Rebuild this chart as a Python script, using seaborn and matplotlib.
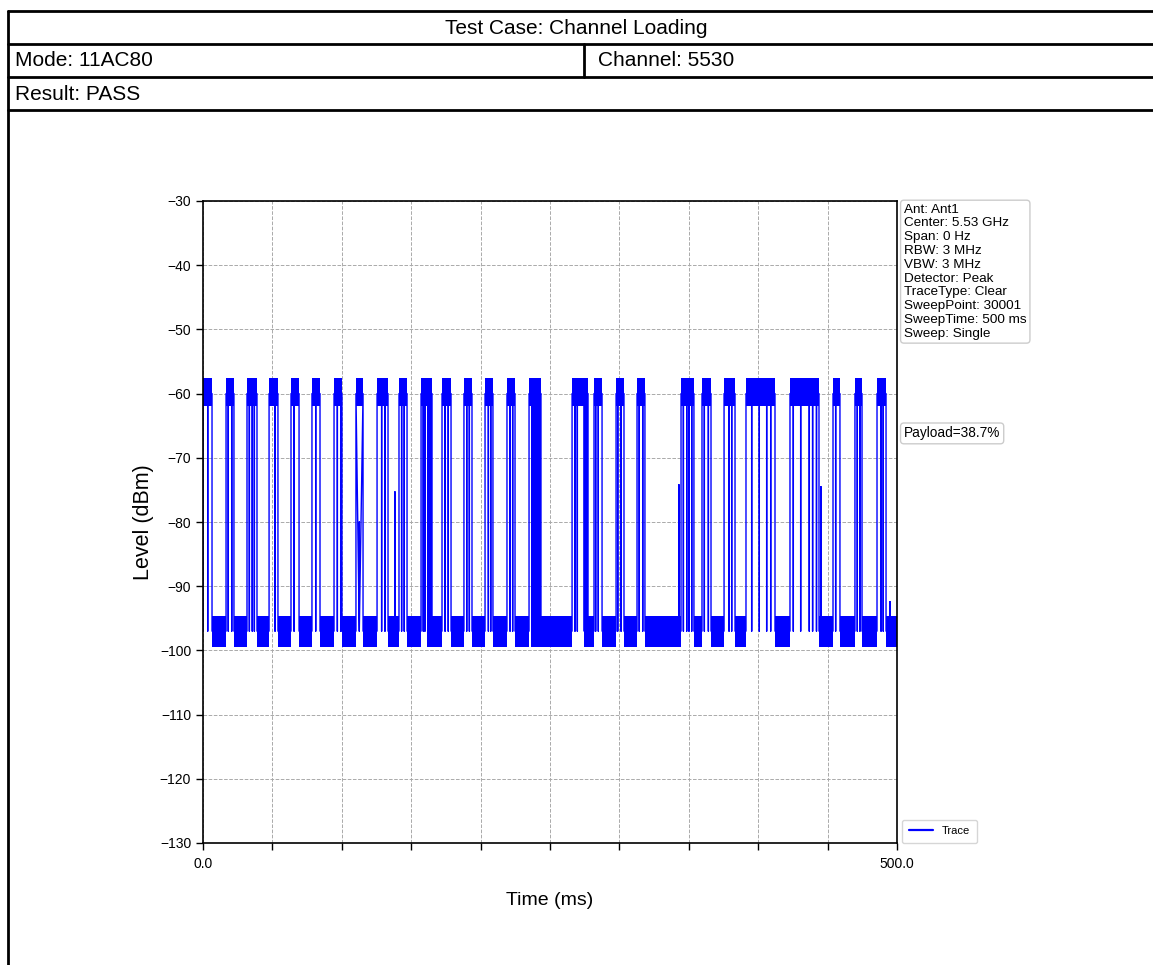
import matplotlib
matplotlib.use("Agg")
import matplotlib.pyplot as plt
from matplotlib.lines import Line2D
import seaborn as sns
import pandas as pd

# ---------------- data ----------------
title_text = "Test Case: Channel Loading"
mode_text = "Mode: 11AC80"
channel_text = "Channel: 5530"
result_text = "Result: PASS"

info_lines = ["Ant: Ant1", "Center: 5.53 GHz", "Span: 0 Hz", "RBW: 3 MHz", "VBW: 3 MHz",
              "Detector: Peak", "TraceType: Clear", "SweepPoint: 30001",
              "SweepTime: 500 ms", "Sweep: Single"]
payload_text = "Payload=38.7%"

# burst (transmission) intervals in ms
burst_start = [0.0, 16.6, 31.7, 47.6, 63.4, 78.5, 94.4, 110.2, 125.4, 141.2, 157.1, 172.2,
               188.0, 203.2, 219.0, 234.9, 265.9, 281.7, 297.6, 312.7, 344.4, 359.5,
               375.4, 391.2, 422.9, 453.9, 469.7, 485.6]
burst_end = [6.5, 22.3, 38.9, 54.0, 69.2, 84.3, 100.1, 115.3, 133.3, 147.0, 165.0, 178.7,
             193.8, 208.9, 224.8, 243.5, 277.4, 287.5, 303.3, 318.4, 353.7, 366.0,
             383.3, 412.1, 443.8, 458.9, 474.8, 492.1]
# short drops to the noise floor inside bursts (ms)
dip_ms = [3.4, 18.2, 20.7, 33.4, 35.5, 37.0, 51.9, 65.6, 81.2, 96.8, 99.2, 128.7, 131.1,
          143.1, 145.0, 158.7, 159.9, 174.4, 176.7, 190.0, 191.9, 205.6, 207.3, 221.2,
          223.1, 268.0, 269.7, 274.7, 276.7, 282.9, 284.8, 298.8, 301.2, 314.3, 316.8,
          346.1, 348.5, 350.1, 352.1, 361.2, 364.1, 379.0, 380.9, 395.3, 400.8, 406.1,
          409.0, 425.3, 430.6, 436.8, 439.2, 442.0, 455.8, 471.4, 473.3, 488.5, 490.1]
# partial spikes rising out of the noise floor (ms, dBm)
spike_ms = [112.6, 138.3, 342.9, 445.2, 494.9]
spike_dbm = [-80.0, -75.3, -74.2, -74.5, -92.4]
# regions of very rapid toggling (ms)
dense_start = [161.4, 236.3, 274.2]
dense_end = [165.0, 243.5, 277.4]

high_level = -60.0
high_band = (-62.0, -57.6)
low_level = -97.0
low_band = (-99.4, -94.6)
sweep_ms = 500.0

y_ticks = list(range(-130, -29, 10))
x_ticks = list(range(0, 501, 50))
x_labels = ["0.0"] + [""] * 9 + ["500.0"]

# ---------------- build the trace ----------------
pts = []
for s, e in sorted(zip(burst_start, burst_end)):
    pts += [(s, low_level), (s, high_level)]
    for d in dip_ms:
        if s < d < e:
            pts += [(d, high_level), (d, low_level), (d, high_level)]
    pts += [(e, high_level), (e, low_level)]
for s, v in zip(spike_ms, spike_dbm):
    pts += [(s, low_level), (s, v), (s, low_level)]
pts_sorted = sorted(enumerate(pts), key=lambda p: (p[1][0], p[0]))
trace = pd.DataFrame({"Time (ms)": [0.0] + [p[1][0] for p in pts_sorted] + [sweep_ms],
                      "Level (dBm)": [low_level] + [p[1][1] for p in pts_sorted] + [low_level]})

# ---------------- figure ----------------
sns.set_theme(style="ticks")
plt.rcParams["font.family"] = ["Liberation Sans", "DejaVu Sans"]
plt.rcParams["axes.unicode_minus"] = True
for key in ["text.color", "axes.labelcolor", "xtick.color", "ytick.color", "axes.edgecolor"]:
    plt.rcParams[key] = "black"

fig = plt.figure(figsize=(11.53, 9.65), dpi=100)
fig.patch.set_facecolor("white")

W, H = 1153.0, 965.0
def fx(px):
    return px / W
def fy(py):
    return 1 - py / H

# table lines
lw = 2.0
for y in [11, 44, 77, 110]:
    fig.add_artist(Line2D([fx(8), 1.0], [fy(y), fy(y)], color="black", lw=lw))
fig.add_artist(Line2D([fx(8), fx(8)], [fy(11), 0.0], color="black", lw=lw))
fig.add_artist(Line2D([fx(584), fx(584)], [fy(44), fy(77)], color="black", lw=lw))
hdr_fs = 15
fig.text(fx(576), fy(28), title_text, ha="center", va="center", fontsize=hdr_fs)
fig.text(fx(15), fy(61), mode_text, ha="left", va="center", fontsize=hdr_fs)
fig.text(fx(598), fy(61), channel_text, ha="left", va="center", fontsize=hdr_fs)
fig.text(fx(15), fy(94), result_text, ha="left", va="center", fontsize=hdr_fs)

ax = fig.add_axes([fx(203), fy(843), fx(897) - fx(203), fy(201) - fy(843)])

blue = "#0000ff"
# noise bands
gaps_start = list(burst_end)
gaps_end = list(burst_start[1:]) + [sweep_ms]
for s, e in zip(burst_start, burst_end):
    ax.fill_between([s, e], [high_band[0]] * 2, [high_band[1]] * 2, color=blue, lw=0)
for s, e in zip(gaps_start, gaps_end):
    if e > s:
        ax.fill_between([s, e], [low_band[0]] * 2, [low_band[1]] * 2, color=blue, lw=0)
for s, e in zip(dense_start, dense_end):
    ax.fill_between([s, e], [low_band[0]] * 2, [high_band[1]] * 2, color=blue, lw=0)

sns.lineplot(data=trace, x="Time (ms)", y="Level (dBm)", ax=ax, color=blue,
             linewidth=1.0, estimator=None, sort=False, label="Trace")

ax.set_xlim(0, sweep_ms)
ax.set_ylim(-130, -30)
ax.set_yticks(y_ticks)
ax.set_xticks(x_ticks)
ax.set_xticklabels(x_labels)
ax.tick_params(axis="both", labelsize=10, length=5, width=1, color="black", direction="out")
ax.tick_params(axis="x", pad=5)
ax.grid(True, linestyle="--", color="#aaaaaa", linewidth=0.7)
ax.set_axisbelow(True)
for sp in ax.spines.values():
    sp.set_visible(True)
    sp.set_color("black")
    sp.set_linewidth(1.2)
ax.set_xlabel("Time (ms)", fontsize=14, labelpad=15)
ax.set_ylabel("Level (dBm)", fontsize=15.5, labelpad=4)

box = dict(boxstyle="round,pad=0.25", facecolor="white", edgecolor="#cccccc", linewidth=1)
ax.text(1.01, 0.996, "\n".join(info_lines), transform=ax.transAxes, ha="left", va="top",
        fontsize=9.7, linespacing=1.2, bbox=box)
ax.text(1.01, 0.638, payload_text, transform=ax.transAxes, ha="left", va="center",
        fontsize=9.8, bbox=box)

leg = ax.legend(loc="lower left", bbox_to_anchor=(1.007, 0.0), borderaxespad=0,
                fontsize=8, frameon=True, handlelength=2.2, borderpad=0.6)
leg.get_frame().set_edgecolor("#cccccc")
for h in leg.get_lines():
    h.set_linewidth(1.6)

fig.savefig("out.png", dpi=100, facecolor="white")
